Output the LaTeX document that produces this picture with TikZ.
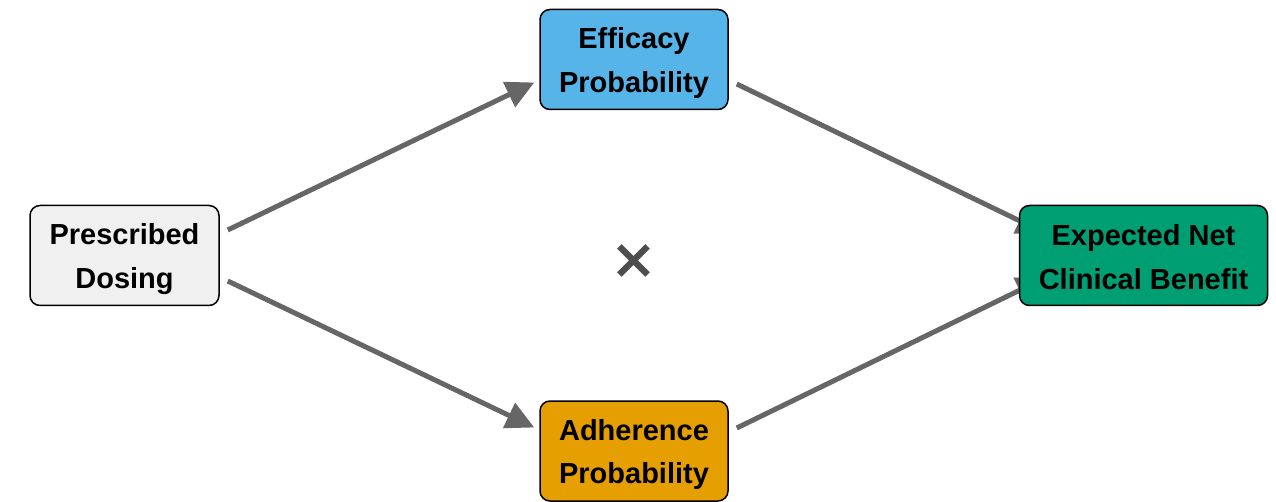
\documentclass[tikz,border=0pt]{standalone}
\usepackage{fontspec}
\setmainfont{Liberation Sans}
\newfontfamily\symfont{DejaVu Sans}
\usetikzlibrary{arrows.meta,backgrounds}
\definecolor{edgegray}{HTML}{666666}
\definecolor{markgray}{HTML}{4D4D4D}
\definecolor{pgray}{HTML}{F0F0F0}
\definecolor{pblue}{HTML}{56B4E9}
\definecolor{porange}{HTML}{E69F00}
\definecolor{pgreen}{HTML}{009E73}
\begin{document}
\begin{tikzpicture}[x=1pt,y=-1pt,
  box/.style={draw=black, line width=1.5pt, rounded corners=10pt,
    minimum height=100pt, align=center, inner sep=0pt,
    font=\fontsize{29}{43.5}\selectfont\bfseries, text=black},
  lbl/.style={align=center, inner sep=0pt,
    font=\fontsize{29}{43.5}\selectfont\bfseries, text=black},
  conn/.style={draw=edgegray, line width=5pt},
  arr/.style={conn, -{Triangle[length=28pt,width=27pt]}}]
\useasboundingbox (0,0) rectangle (1276,502);
\node[box, fill=pgray, minimum width=189pt] (P) at (124.5,255.5) {};
\node[box, fill=pblue, minimum width=188pt] (E) at (634,59.5) {};
\node[box, fill=porange, minimum width=188pt] (A) at (634,451) {};
\node[box, fill=pgreen, minimum width=248pt] (X) at (1143.5,255.5) {};
\node[lbl] (Pt) at ([yshift=-3.5pt]P.center) {Prescribed\\Dosing};
\node[lbl] (Et) at ([yshift=-3.5pt]E.center) {Efficacy\\Probability};
\node[lbl] (At) at ([yshift=-3.5pt]A.center) {Adherence\\Probability};
\node[lbl] (Xt) at ([yshift=-1.5pt]X.center) {Expected Net\\Clinical Benefit};
\node[font=\symfont\bfseries\fontsize{56}{56}\selectfont, text=markgray, inner sep=0pt] (M) at (634,262) {×};
\begin{pgfonlayer}{background}
\draw[arr] ([shift={(8,-25.5)}]P.east) -- ([shift={(-5,23)}]E.west);
\draw[arr] ([shift={(8,25.5)}]P.east) -- ([shift={(-5,-23.5)}]A.west);
\draw[arr] ([shift={(8,24.5)}]E.east) -- ([shift={(26,-22.5)}]X.west);
\draw[arr] ([shift={(8,-23)}]A.east) -- ([shift={(26,22.5)}]X.west);
\end{pgfonlayer}
\end{tikzpicture}
\end{document}
